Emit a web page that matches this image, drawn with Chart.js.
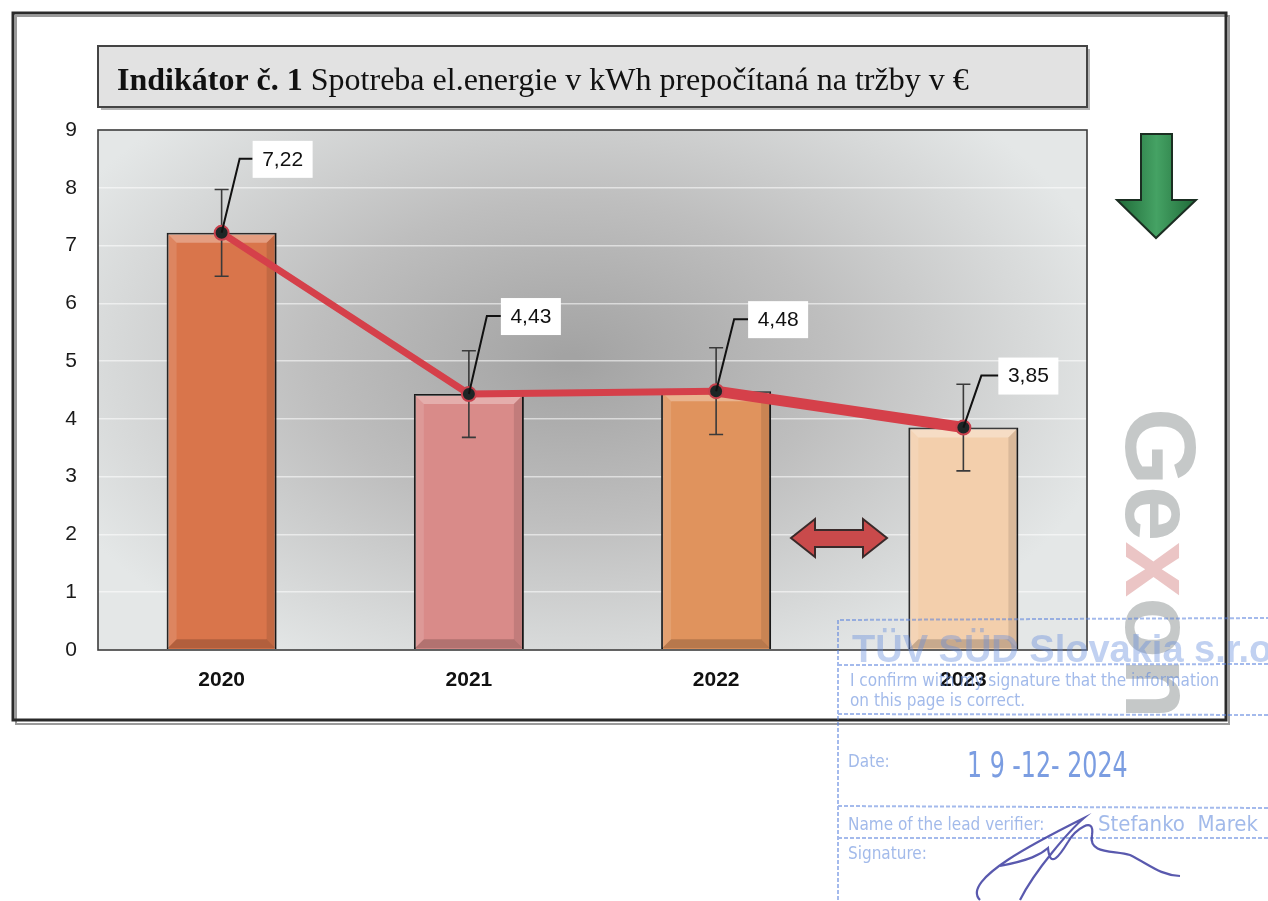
<!DOCTYPE html>
<html><head><meta charset="utf-8">
<script src="https://cdn.jsdelivr.net/npm/chart.js@4"></script>
<style>html,body{margin:0;padding:0;background:#fff}canvas{display:block}</style>
</head><body>
<canvas id="c" width="1268" height="901"></canvas>
<script>
// ---- data ----
const categories = ['2020', '2021', '2022', '2023'];
const values = [7.22, 4.43, 4.48, 3.85];
const valueLabels = ['7,22', '4,43', '4,48', '3,85'];
const errorMargin = [0.75, 0.75, 0.75, 0.75];
const yTickValues = [0, 1, 2, 3, 4, 5, 6, 7, 8, 9];
const titleBold = 'Indikátor č. 1';
const titleRest = ' Spotreba el.energie v kWh prepočítaná na tržby v €';
const watermark = 'Gexon';
const stampLines = {
  company: 'TÜV SÜD Slovakia s.r.o.',
  confirm1: 'I confirm with my signature that the information',
  confirm2: 'on this page is correct.',
  dateLabel: 'Date:',
  date: '1 9 -12- 2024',
  nameLabel: 'Name of the lead verifier:',
  name: 'Stefanko  Marek',
  signLabel: 'Signature:'
};

// ---- styles ----
const barColors = ['#d9754b', '#d98b89', '#e0935d', '#f3cfac'];
const labelOffsets = [[31, -74], [32, -78], [32, -72], [35, -52]];

const decor = {
  id: 'decor',
  beforeDraw(chart) {
    const ctx = chart.ctx;
    const a = chart.chartArea;
    ctx.save();
    // outer frame
    ctx.strokeStyle = '#9a9a9a'; ctx.lineWidth = 2;
    ctx.strokeRect(16, 16, 1213, 708);
    ctx.strokeStyle = '#2a2a2a'; ctx.lineWidth = 3;
    ctx.strokeRect(13, 13, 1213, 707);
    // title box
    ctx.fillStyle = '#b5b5b5';
    ctx.fillRect(a.left + 3, 49, a.right - a.left, 61);
    ctx.fillStyle = '#e2e2e2';
    ctx.fillRect(a.left, 46, a.right - a.left, 61);
    ctx.strokeStyle = '#444'; ctx.lineWidth = 2;
    ctx.strokeRect(a.left, 46, a.right - a.left, 61);
    ctx.fillStyle = '#111';
    ctx.textBaseline = 'alphabetic';
    ctx.font = 'bold 32px "Liberation Serif", "Times New Roman", serif';
    ctx.fillText(titleBold, 117, 90);
    const w = ctx.measureText(titleBold).width;
    ctx.font = '32px "Liberation Serif", "Times New Roman", serif';
    ctx.fillText(titleRest, 117 + w, 90);
    // plot background (radial gray)
    const cx = 570, cy = 360;
    ctx.save();
    ctx.beginPath(); ctx.rect(a.left, a.top, a.right - a.left, a.bottom - a.top); ctx.clip();
    ctx.translate(cx, cy); ctx.scale(1, 0.62);
    const g = ctx.createRadialGradient(0, 0, 10, 0, 0, 560);
    g.addColorStop(0, '#a3a3a3');
    g.addColorStop(0.45, '#bebebe');
    g.addColorStop(1, '#e4e7e7');
    ctx.fillStyle = g;
    ctx.fillRect(-800, -800, 1600, 1600);
    ctx.restore();
    ctx.restore();
  },
  afterDatasetDraw(chart, args) {
    if (args.index !== 0) return;
    const ctx = chart.ctx;
    const ys = chart.scales.y;
    ctx.save();
    // bevel shading on bars
    chart.getDatasetMeta(0).data.forEach(bar => {
      const l = bar.x - bar.width / 2 + 1, r = bar.x + bar.width / 2 - 1;
      const t = bar.y + 1, b = bar.base - 1, s = 9;
      ctx.fillStyle = 'rgba(255,255,255,0.30)';
      ctx.beginPath(); ctx.moveTo(l, t); ctx.lineTo(r, t); ctx.lineTo(r - s, t + s); ctx.lineTo(l + s, t + s); ctx.closePath(); ctx.fill();
      ctx.fillStyle = 'rgba(255,255,255,0.12)';
      ctx.beginPath(); ctx.moveTo(l, t); ctx.lineTo(l + s, t + s); ctx.lineTo(l + s, b - s); ctx.lineTo(l, b); ctx.closePath(); ctx.fill();
      ctx.fillStyle = 'rgba(0,0,0,0.10)';
      ctx.beginPath(); ctx.moveTo(r, t); ctx.lineTo(r - s, t + s); ctx.lineTo(r - s, b - s); ctx.lineTo(r, b); ctx.closePath(); ctx.fill();
      ctx.fillStyle = 'rgba(0,0,0,0.18)';
      ctx.beginPath(); ctx.moveTo(l, b); ctx.lineTo(l + s, b - s); ctx.lineTo(r - s, b - s); ctx.lineTo(r, b); ctx.closePath(); ctx.fill();
    });
    // error bars
    const meta = chart.getDatasetMeta(1);
    ctx.strokeStyle = '#3a3a3a'; ctx.lineWidth = 1.6;
    meta.data.forEach((pt, i) => {
      const yt = ys.getPixelForValue(values[i] + errorMargin[i]);
      const yb = ys.getPixelForValue(values[i] - errorMargin[i]);
      ctx.beginPath();
      ctx.moveTo(pt.x, yt); ctx.lineTo(pt.x, yb);
      ctx.moveTo(pt.x - 7, yt); ctx.lineTo(pt.x + 7, yt);
      ctx.moveTo(pt.x - 7, yb); ctx.lineTo(pt.x + 7, yb);
      ctx.stroke();
    });
    ctx.restore();
  },
  afterDatasetsDraw(chart) {
    const ctx = chart.ctx;
    const a = chart.chartArea;
    ctx.save();
    // plot border
    ctx.strokeStyle = '#3c3c3c'; ctx.lineWidth = 1.6;
    ctx.strokeRect(a.left, a.top, a.right - a.left, a.bottom - a.top);
    // data labels with leader lines
    const meta = chart.getDatasetMeta(1);
    ctx.font = '21px "Liberation Sans", Arial, sans-serif';
    ctx.textAlign = 'center'; ctx.textBaseline = 'middle';
    meta.data.forEach((pt, i) => {
      const [dx, dy] = labelOffsets[i];
      const bx = pt.x + dx, by = pt.y + dy;
      ctx.strokeStyle = '#111'; ctx.lineWidth = 2;
      ctx.beginPath();
      ctx.moveTo(pt.x, pt.y); ctx.lineTo(pt.x + 18, by); ctx.lineTo(bx, by);
      ctx.stroke();
      ctx.fillStyle = '#fff';
      ctx.fillRect(bx, by - 18, 60, 37);
      ctx.fillStyle = '#111';
      ctx.fillText(valueLabels[i], bx + 30, by + 1);
    });
    ctx.restore();
  },
  afterDraw(chart) {
    const ctx = chart.ctx;
    ctx.save();
    // green down arrow
    let g = ctx.createLinearGradient(1117, 0, 1196, 0);
    g.addColorStop(0, '#1f6a38'); g.addColorStop(0.5, '#45a264'); g.addColorStop(1, '#1f6a38');
    ctx.fillStyle = g; ctx.strokeStyle = '#1b2e22'; ctx.lineWidth = 2;
    ctx.beginPath();
    ctx.moveTo(1141, 134); ctx.lineTo(1172, 134); ctx.lineTo(1172, 200); ctx.lineTo(1196, 200);
    ctx.lineTo(1156, 238); ctx.lineTo(1117, 200); ctx.lineTo(1141, 200); ctx.closePath();
    ctx.fill(); ctx.stroke();
    // red double arrow
    ctx.fillStyle = '#c94a4b'; ctx.strokeStyle = '#3a2a2a'; ctx.lineWidth = 2;
    ctx.beginPath();
    ctx.moveTo(791, 538); ctx.lineTo(815, 519); ctx.lineTo(815, 530); ctx.lineTo(863, 530);
    ctx.lineTo(863, 519); ctx.lineTo(887, 538); ctx.lineTo(863, 557); ctx.lineTo(863, 547);
    ctx.lineTo(815, 547); ctx.lineTo(815, 557); ctx.closePath();
    ctx.fill(); ctx.stroke();
    // watermark
    ctx.save();
    ctx.translate(1126, 408);
    ctx.rotate(Math.PI / 2);
    ctx.font = 'bold 100px "Liberation Sans", Arial, sans-serif';
    ctx.textBaseline = 'alphabetic'; ctx.textAlign = 'left';
    let x0 = 0;
    for (const ch of watermark) {
      ctx.fillStyle = ch === 'x' ? 'rgba(215,140,140,0.5)' : 'rgba(150,155,155,0.55)';
      ctx.fillText(ch, x0, 0);
      x0 += ctx.measureText(ch).width;
    }
    ctx.restore();
    // stamp
    ctx.strokeStyle = 'rgba(90,130,220,0.55)'; ctx.lineWidth = 2;
    ctx.setLineDash([4, 2]);
    ctx.beginPath();
    ctx.moveTo(838, 900); ctx.lineTo(838, 620); ctx.lineTo(1268, 618);
    ctx.moveTo(838, 665); ctx.lineTo(1268, 664);
    ctx.moveTo(838, 714); ctx.lineTo(1268, 715);
    ctx.moveTo(838, 806); ctx.lineTo(1268, 808);
    ctx.moveTo(838, 838); ctx.lineTo(1268, 838);
    ctx.stroke();
    ctx.setLineDash([]);
    ctx.fillStyle = 'rgba(100,140,220,0.40)';
    ctx.textAlign = 'left'; ctx.textBaseline = 'alphabetic';
    ctx.font = 'bold 38px "Liberation Sans", Arial, sans-serif';
    ctx.fillText(stampLines.company, 852, 662);
    ctx.fillStyle = 'rgba(100,140,220,0.6)';
    ctx.font = '17px "Liberation Sans Narrow", "DejaVu Sans Condensed", sans-serif';
    ctx.fillText(stampLines.confirm1, 850, 686);
    ctx.fillText(stampLines.confirm2, 850, 706);
    ctx.fillText(stampLines.dateLabel, 848, 767);
    ctx.fillText(stampLines.nameLabel, 848, 830);
    ctx.fillText(stampLines.signLabel, 848, 859);
    ctx.font = '22px "Liberation Sans Narrow", "DejaVu Sans Condensed", sans-serif';
    ctx.fillText(stampLines.name, 1098, 831);
    ctx.fillStyle = 'rgba(100,140,220,0.85)';
    ctx.save();
    ctx.translate(967, 777); ctx.scale(0.88, 1.2);
    ctx.font = '30px "Liberation Sans Narrow", "DejaVu Sans Condensed", sans-serif';
    ctx.fillText(stampLines.date, 0, 0);
    ctx.restore();
    // signature
    ctx.strokeStyle = 'rgba(60,60,160,0.85)'; ctx.lineWidth = 2.2;
    ctx.beginPath();
    ctx.moveTo(980, 900);
    ctx.bezierCurveTo(960, 880, 1040, 840, 1084, 818);
    ctx.bezierCurveTo(1070, 830, 1035, 870, 1020, 900);
    ctx.moveTo(1000, 866);
    ctx.bezierCurveTo(1030, 860, 1040, 855, 1048, 848);
    ctx.bezierCurveTo(1050, 870, 1060, 855, 1068, 842);
    ctx.bezierCurveTo(1075, 830, 1095, 815, 1092, 835);
    ctx.bezierCurveTo(1088, 855, 1115, 850, 1130, 855);
    ctx.bezierCurveTo(1150, 865, 1160, 875, 1180, 876);
    ctx.stroke();
    ctx.restore();
  }
};

new Chart(document.getElementById('c'), {
  type: 'bar',
  data: {
    labels: categories,
    datasets: [
      {
        type: 'bar',
        data: values,
        order: 2,
        backgroundColor: barColors,
        borderColor: '#1a1a1a',
        borderWidth: 2,
        categoryPercentage: 1,
        barPercentage: 0.445
      },
      {
        type: 'line',
        data: values,
        order: 1,
        borderColor: '#d5404a',
        borderWidth: 7,
        segment: { borderWidth: c => (c.p1DataIndex === 3 ? 11 : 7) },
        pointRadius: 7,
        pointBackgroundColor: '#1d2626',
        pointBorderColor: '#c8404c',
        pointBorderWidth: 2,
        tension: 0
      }
    ]
  },
  options: {
    responsive: false,
    animation: false,
    events: [],
    layout: { padding: { left: 0, top: 130, right: 181, bottom: 191 } },
    plugins: { legend: { display: false }, tooltip: { enabled: false } },
    scales: {
      x: {
        grid: { display: false, drawTicks: false },
        border: { display: false },
        ticks: { color: '#111', padding: 18, font: { family: '"Liberation Sans", Arial, sans-serif', size: 21, weight: 'bold' } },
        afterFit: s => { s.height = 60; }
      },
      y: {
        min: 0, max: 9,
        afterBuildTicks: s => { s.ticks = yTickValues.map(v => ({ value: v })); },
        grid: { color: 'rgba(255,255,255,0.55)', lineWidth: 1.5, drawTicks: false },
        border: { display: false },
        ticks: { color: '#1a1a1a', padding: 21, font: { family: '"Liberation Sans", Arial, sans-serif', size: 21 } },
        afterFit: s => { s.width = 98; }
      }
    }
  },
  plugins: [decor]
});
</script>
</body></html>
